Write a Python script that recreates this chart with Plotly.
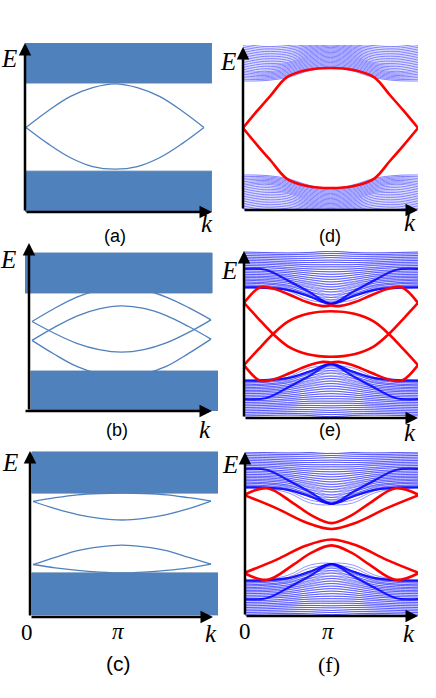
import plotly.graph_objects as go

W, H = 436, 698
PX_PER_E = 42.0
TWO_PI = 6.283

# k sample points (0 .. 2pi) at which the curves were read
K9 = [0.0, 0.785, 1.571, 2.356, 3.142, 3.927, 4.712, 5.498, 6.283]
K5 = [0.0, 0.785, 1.571, 2.356, 3.142]   # half zone, curves symmetric about pi

# ---------------- (a) schematic: one pair of edge states ----------------
A_LENS = [
    [0.0, 0.40, 0.74, 0.95, 1.04, 0.95, 0.74, 0.40, 0.0],
    [0.0, -0.39, -0.72, -0.93, -0.99, -0.93, -0.72, -0.39, 0.0],
]
A_BANDS = [[1.06, 2.02], [-2.01, -1.04]]
A_BAND_K = [[-0.04, 6.56], [-0.04, 6.56]]

# ---------------- (b) schematic: two pairs ----------------
B_LENS = [
    [0.25, 0.56, 0.83, 1.00, 1.07, 1.00, 0.83, 0.58, 0.29],
    [0.25, -0.03, -0.27, -0.42, -0.48, -0.42, -0.26, -0.01, 0.29],
    [-0.20, 0.11, 0.38, 0.55, 0.62, 0.56, 0.39, 0.13, -0.17],
    [-0.20, -0.53, -0.82, -1.00, -1.07, -1.00, -0.82, -0.51, -0.17],
]
B_BANDS = [[0.93, 1.88], [-1.88, -0.93]]
B_BAND_K = [[-0.25, 6.32], [-0.04, 6.53]]

# ---------------- (c) schematic: gapped pairs ----------------
C_LENS = [
    [0.75, 0.84, 0.91, 0.94, 0.95, 0.94, 0.91, 0.84, 0.76],
    [0.75, 0.58, 0.44, 0.35, 0.31, 0.35, 0.44, 0.58, 0.76],
    [-0.75, -0.58, -0.42, -0.33, -0.29, -0.33, -0.42, -0.58, -0.74],
    [-0.75, -0.83, -0.89, -0.93, -0.95, -0.93, -0.89, -0.83, -0.74],
]
C_BANDS = [[0.95, 1.93], [-1.95, -0.95]]
C_BAND_K = [[-0.04, 6.56], [-0.04, 6.56]]

# ---------------- (d) ribbon spectrum ----------------
# upper bulk band lines, k = 0..pi (mirror about pi; lower band is E -> -E)
D_BULK_HALF = [
    [1.12, 1.13, 1.20, 1.36, 1.44],
    [1.16, 1.16, 1.23, 1.39, 1.47],
    [1.20, 1.19, 1.26, 1.42, 1.50],
    [1.24, 1.22, 1.29, 1.45, 1.53],
    [1.28, 1.25, 1.32, 1.48, 1.56],
    [1.32, 1.28, 1.35, 1.51, 1.59],
    [1.36, 1.31, 1.38, 1.54, 1.62],
    [1.40, 1.34, 1.41, 1.57, 1.65],
    [1.44, 1.38, 1.44, 1.60, 1.68],
    [1.48, 1.42, 1.47, 1.63, 1.71],
    [1.52, 1.46, 1.50, 1.66, 1.74],
    [1.56, 1.50, 1.53, 1.69, 1.77],
    [1.60, 1.54, 1.56, 1.72, 1.80],
    [1.64, 1.58, 1.60, 1.75, 1.83],
    [1.68, 1.62, 1.64, 1.78, 1.86],
    [1.72, 1.66, 1.68, 1.81, 1.89],
    [1.76, 1.70, 1.72, 1.84, 1.92],
    [1.80, 1.74, 1.76, 1.87, 1.95],
    [1.84, 1.78, 1.80, 1.90, 1.98],
    [1.88, 1.82, 1.84, 1.93, 2.01],
    [1.92, 1.86, 1.88, 1.96, 2.04],
    [1.96, 1.90, 1.92, 1.99, 2.07],
    [2.00, 1.94, 1.96, 2.02, 2.10],
]
D_EDGE_K = [0.0, 0.5, 1.0, 1.58, 2.3, 3.142, 3.98, 4.70, 5.28, 5.78, 6.283]
D_EDGE = [
    [0.0, 0.40, 0.78, 1.21, 1.38, 1.43, 1.38, 1.21, 0.78, 0.40, 0.0],
    [0.0, -0.40, -0.78, -1.21, -1.38, -1.43, -1.38, -1.21, -0.78, -0.40, 0.0],
]

# ---------------- (e), (f) ribbon spectrum with shifted copies ----------------
# one copy of the upper bulk band (other copy is k -> 2pi - k, lower band E -> -E)
EF_BULK_A = [
    [1.10, 1.08, 0.98, 0.74, 0.70, 0.88, 1.04, 1.09, 1.10],
    [1.14, 1.12, 1.03, 0.81, 0.76, 0.92, 1.07, 1.12, 1.14],
    [1.17, 1.15, 1.07, 0.88, 0.81, 0.96, 1.10, 1.15, 1.17],
    [1.21, 1.19, 1.12, 0.94, 0.87, 1.01, 1.14, 1.19, 1.21],
    [1.24, 1.22, 1.16, 1.00, 0.93, 1.05, 1.17, 1.22, 1.24],
    [1.28, 1.26, 1.21, 1.06, 1.00, 1.10, 1.21, 1.26, 1.28],
    [1.31, 1.30, 1.25, 1.12, 1.06, 1.15, 1.25, 1.29, 1.31],
    [1.35, 1.34, 1.29, 1.18, 1.12, 1.20, 1.29, 1.33, 1.35],
    [1.38, 1.37, 1.33, 1.23, 1.18, 1.25, 1.33, 1.37, 1.38],
    [1.42, 1.41, 1.38, 1.29, 1.24, 1.30, 1.37, 1.41, 1.42],
    [1.46, 1.45, 1.42, 1.34, 1.30, 1.35, 1.41, 1.45, 1.46],
    [1.50, 1.49, 1.46, 1.40, 1.36, 1.40, 1.46, 1.49, 1.50],
    [1.55, 1.53, 1.50, 1.45, 1.42, 1.45, 1.50, 1.53, 1.55],
    [1.59, 1.58, 1.55, 1.50, 1.48, 1.50, 1.54, 1.58, 1.59],
    [1.63, 1.62, 1.59, 1.55, 1.54, 1.55, 1.58, 1.62, 1.63],
    [1.67, 1.66, 1.64, 1.60, 1.60, 1.60, 1.63, 1.66, 1.67],
    [1.71, 1.70, 1.68, 1.65, 1.65, 1.65, 1.67, 1.70, 1.71],
    [1.75, 1.74, 1.72, 1.70, 1.71, 1.70, 1.71, 1.74, 1.75],
    [1.79, 1.78, 1.76, 1.75, 1.76, 1.75, 1.76, 1.78, 1.79],
    [1.83, 1.82, 1.81, 1.80, 1.82, 1.80, 1.80, 1.82, 1.83],
    [1.87, 1.86, 1.85, 1.85, 1.87, 1.85, 1.85, 1.86, 1.87],
    [1.91, 1.90, 1.89, 1.90, 1.92, 1.90, 1.89, 1.90, 1.91],
    [1.95, 1.94, 1.93, 1.94, 1.97, 1.94, 1.93, 1.94, 1.95],
]
EF_CAUSTIC_A = [1.55, 1.53, 1.28, 1.00, 0.72, 0.90, 1.05, 1.10, 1.11]

E_EDGE_K = [
    [0.0, 0.55, 0.95, 1.66, 2.27, 2.85, 3.142, 3.43, 4.01, 4.62, 5.33, 5.73, 6.283],
    [0.0, 0.5, 1.05, 1.6, 2.3, 3.142, 3.98, 4.68, 5.23, 5.78, 6.283],
    [0.0, 0.5, 1.05, 1.6, 2.3, 3.142, 3.98, 4.68, 5.23, 5.78, 6.283],
    [0.0, 0.55, 0.95, 1.66, 2.27, 2.85, 3.142, 3.43, 4.01, 4.62, 5.33, 5.73, 6.283],
]
E_EDGE = [
    [0.74, 1.10, 1.10, 0.93, 0.76, 0.66, 0.68, 0.66, 0.76, 0.93, 1.10, 1.10, 0.74],
    [0.74, 0.38, 0.0, -0.30, -0.48, -0.54, -0.48, -0.30, 0.0, 0.38, 0.74],
    [-0.74, -0.38, 0.0, 0.30, 0.48, 0.54, 0.48, 0.30, 0.0, -0.38, -0.74],
    [-0.74, -1.10, -1.10, -0.93, -0.76, -0.66, -0.68, -0.66, -0.76, -0.93, -1.10, -1.10, -0.74],
]

F_EDGE_K = [
    [0.0, 0.81, 1.76, 2.4, 3.142, 3.88, 4.52, 5.47, 6.283],
    [0.0, 1.15, 2.2, 3.142, 4.08, 5.13, 6.283],
    [0.0, 1.15, 2.2, 3.142, 4.08, 5.13, 6.283],
    [0.0, 0.81, 1.76, 2.4, 3.142, 3.88, 4.52, 5.47, 6.283],
]
F_EDGE = [
    [0.94, 1.09, 0.73, 0.45, 0.26, 0.45, 0.73, 1.09, 0.94],
    [0.92, 0.61, 0.28, 0.12, 0.28, 0.61, 0.92],
    [-0.92, -0.61, -0.28, -0.13, -0.28, -0.61, -0.92],
    [-0.94, -1.09, -0.73, -0.45, -0.27, -0.45, -0.73, -1.09, -0.94],
]

# panel geometry (pixels)
PANELS = [
    dict(ax_x=25, x_start=25, arrow_x=212, x0=25, x1=212, k0=26, k2pi=204, tip_y=43, base_y=212, top=43, yc=127.5),
    dict(ax_x=29, x_start=24, arrow_x=212, x0=25, x1=218, k0=32, k2pi=211, tip_y=243, base_y=411, top=243, yc=332),
    dict(ax_x=30, x_start=30, arrow_x=213, x0=30, x1=218, k0=33, k2pi=211, tip_y=451, base_y=617, top=451, yc=533),
    dict(ax_x=243, x_start=243, arrow_x=418, x0=243, x1=418, k0=243, k2pi=418, tip_y=47, base_y=210, top=45, yc=128),
    dict(ax_x=244, x_start=244, arrow_x=418, x0=244, x1=418, k0=244, k2pi=418, tip_y=251, base_y=418, top=251, yc=334),
    dict(ax_x=245, x_start=245, arrow_x=418, x0=245, x1=418, k0=245, k2pi=418, tip_y=452, base_y=616, top=452, yc=534),
]

SCHEME_BLUE = '#4f81bd'
BULK_BLUE = 'rgba(0,0,255,0.7)'
RED = '#ff0000'
SERIF = 'Liberation Serif'
SANS = 'Liberation Sans'

fig = go.Figure()
layout = {}
annotations = []
shapes = []

for i, p in enumerate(PANELS, start=1):
    sfx = '' if i == 1 else str(i)
    s = (p['k2pi'] - p['k0']) / TWO_PI
    layout['xaxis' + sfx] = dict(
        domain=[p['x0'] / W, p['x1'] / W],
        range=[(p['x0'] - p['k0']) / s, (p['x1'] - p['k0']) / s],
        visible=False, anchor='y' + sfx)
    layout['yaxis' + sfx] = dict(
        domain=[1 - p['base_y'] / H, 1 - p['top'] / H],
        range=[(p['yc'] - p['base_y']) / PX_PER_E, (p['yc'] - p['top']) / PX_PER_E],
        visible=False, anchor='x' + sfx)
    # axis arrows
    annotations.append(dict(x=p['ax_x'] / W, y=1 - p['tip_y'] / H, xref='paper', yref='paper',
                            ax=0, ay=p['base_y'] - p['tip_y'], axref='pixel', ayref='pixel',
                            text='', showarrow=True, arrowhead=2, arrowsize=1,
                            arrowwidth=2.5, arrowcolor='black'))
    annotations.append(dict(x=p['arrow_x'] / W, y=1 - p['base_y'] / H, xref='paper', yref='paper',
                            ax=p['x_start'] - p['arrow_x'], ay=0, axref='pixel', ayref='pixel',
                            text='', showarrow=True, arrowhead=2, arrowsize=1,
                            arrowwidth=2.5, arrowcolor='black'))


def line(panel, k, e, color, width):
    sfx = '' if panel == 1 else str(panel)
    fig.add_trace(go.Scatter(x=k, y=e, mode='lines', line=dict(color=color, width=width, shape='spline'),
                             xaxis='x' + sfx, yaxis='y' + sfx, hoverinfo='skip'))


def bands(panel, band_e, band_k):
    sfx = '' if panel == 1 else str(panel)
    for (e0, e1), (k0, k1) in zip(band_e, band_k):
        shapes.append(dict(type='rect', xref='x' + sfx, yref='y' + sfx, x0=k0, x1=k1, y0=e0, y1=e1,
                           fillcolor=SCHEME_BLUE, line=dict(color='#5a7fae', width=1), layer='above'))


# schematic panels
for curve in A_LENS:
    line(1, K9, curve, SCHEME_BLUE, 1.3)
bands(1, A_BANDS, A_BAND_K)
for curve in B_LENS:
    line(2, K9, curve, SCHEME_BLUE, 1.3)
bands(2, B_BANDS, B_BAND_K)
for curve in C_LENS:
    line(3, K9, curve, SCHEME_BLUE, 1.3)
bands(3, C_BANDS, C_BAND_K)

# (d) bulk + edge
k_full = K5 + [TWO_PI - k for k in K5[-2::-1]]
for half in D_BULK_HALF:
    full = half + half[-2::-1]
    line(4, k_full, full, BULK_BLUE, 0.7)
    line(4, k_full, [-v for v in full], BULK_BLUE, 0.7)
for curve in D_EDGE:
    line(4, D_EDGE_K, curve, RED, 2.6)

# (e), (f) bulk (two shifted copies) + edge
for panel, edge_k, edges in [(5, E_EDGE_K, E_EDGE), (6, F_EDGE_K, F_EDGE)]:
    for curve in EF_BULK_A:
        for c in (curve, curve[::-1]):
            line(panel, K9, c, BULK_BLUE, 0.6)
            line(panel, K9, [-v for v in c], BULK_BLUE, 0.6)
    for c in (EF_CAUSTIC_A, EF_CAUSTIC_A[::-1]):
        line(panel, K9, c, 'rgba(0,0,255,0.85)', 2.2)
        line(panel, K9, [-v for v in c], 'rgba(0,0,255,0.85)', 2.2)
    for kk, ee in zip(edge_k, edges):
        line(panel, kk, ee, RED, 2.6)

# text labels (pixel positions)
LABELS = [
    ('<i>E</i>', 9, 58, 25, SERIF), ('<i>k</i>', 207, 223, 25, SERIF), ('(a)', 115, 236, 18, SANS),
    ('<i>E</i>', 228, 61, 25, SERIF), ('<i>k</i>', 410, 222, 25, SERIF), ('(d)', 330, 236, 18, SANS),
    ('<i>E</i>', 8, 260, 25, SERIF), ('<i>k</i>', 205, 429, 25, SERIF), ('(b)', 117, 430, 18, SANS),
    ('<i>E</i>', 229, 270, 25, SERIF), ('<i>k</i>', 410, 432, 25, SERIF), ('(e)', 330, 430, 18, SANS),
    ('<i>E</i>', 10, 462, 25, SERIF), ('<i>k</i>', 211, 633, 25, SERIF), ('(c)', 118, 663, 21, SANS),
    ('0', 27, 632, 23, SERIF), ('<i>π</i>', 118, 631, 23, SERIF),
    ('<i>E</i>', 230, 464, 25, SERIF), ('<i>k</i>', 409, 633, 25, SERIF), ('(f)', 329, 664, 22, SERIF),
    ('0', 245, 631, 23, SERIF), ('<i>π</i>', 328, 631, 23, SERIF),
]
for text, x, y, size, fam in LABELS:
    annotations.append(dict(x=x / W, y=1 - y / H, xref='paper', yref='paper', text=text,
                            showarrow=False, xanchor='center', yanchor='middle',
                            font=dict(family=fam, size=size, color='black')))

fig.update_layout(**layout)
fig.update_layout(
    width=W, height=H, margin=dict(l=0, r=0, t=0, b=0),
    paper_bgcolor='white', plot_bgcolor='white', showlegend=False,
    annotations=annotations, shapes=shapes,
)

# drop the browser's default page margin so figure pixels match the window
fig.write_html("out.html", config={'displayModeBar': False},
               post_script="document.body.style.margin='0px';")
